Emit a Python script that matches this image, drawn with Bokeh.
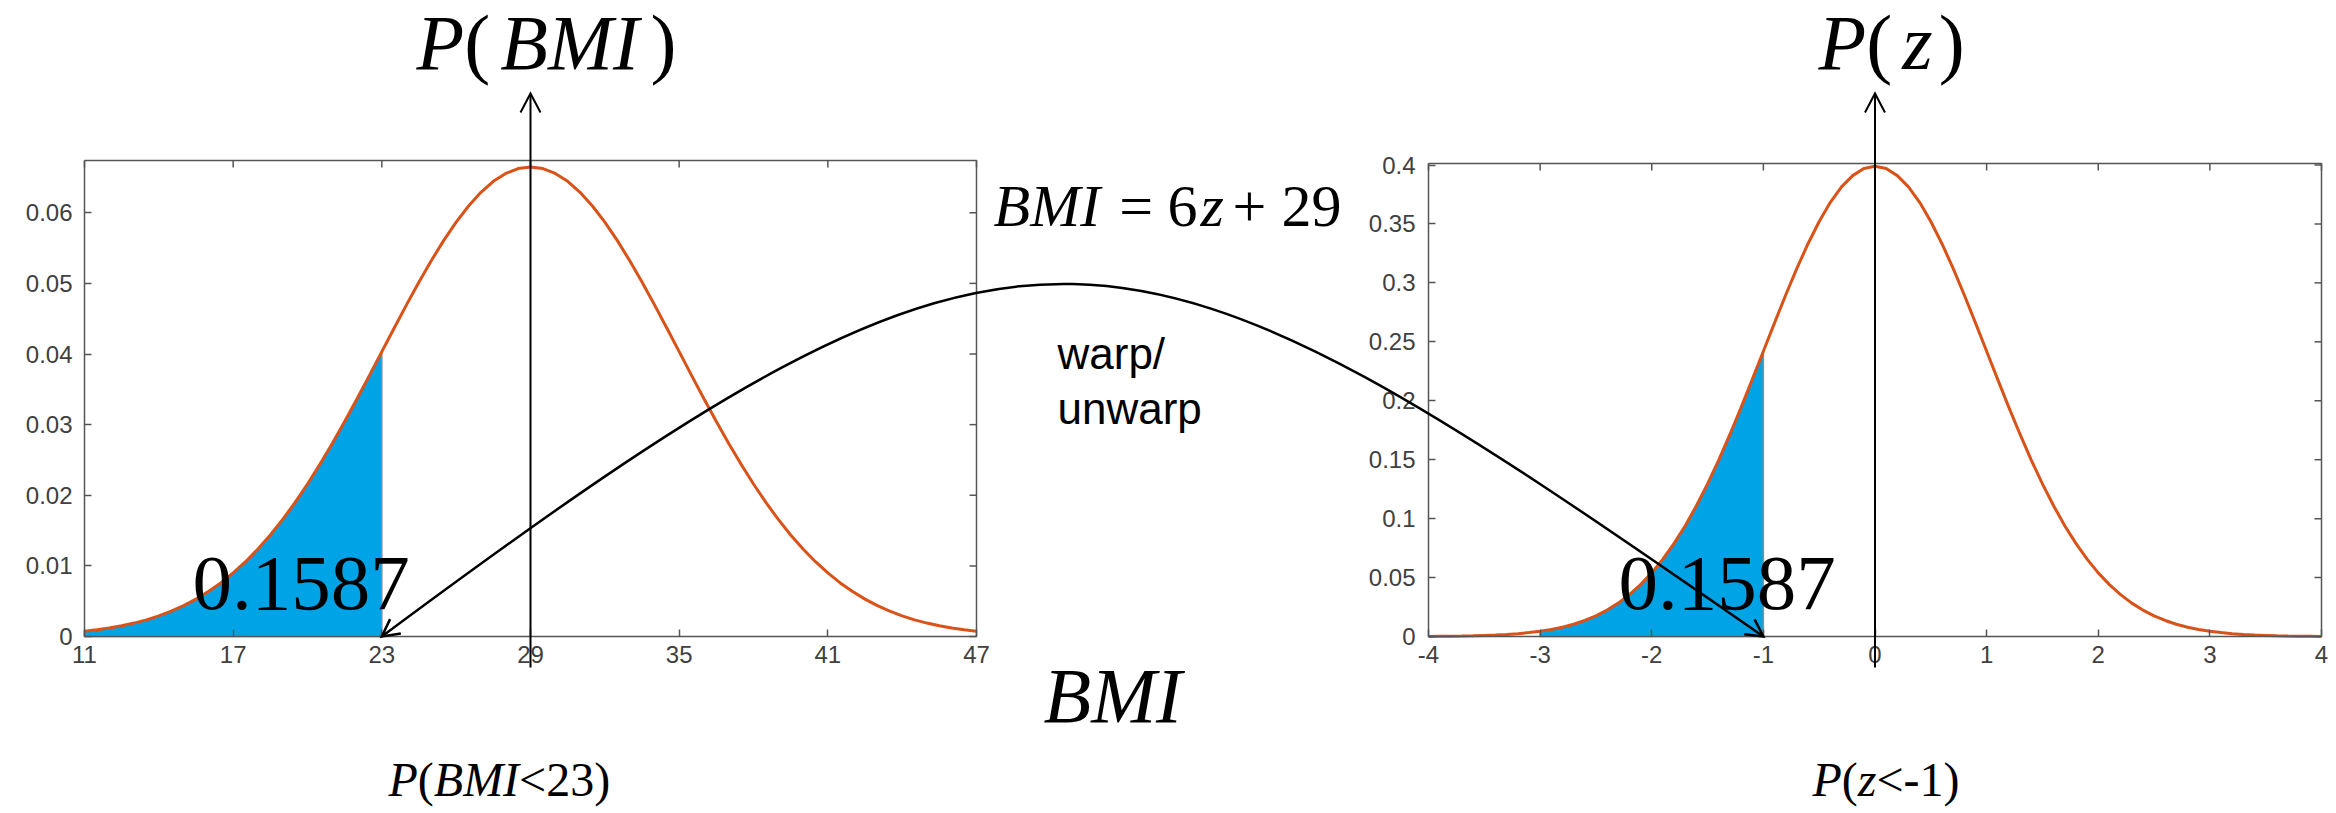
from bokeh.plotting import figure
from bokeh.models import (Range1d, LinearAxis, FixedTicker, ColumnDataSource,
                          CustomJSTickFormatter)
from bokeh.embed import file_html
from bokeh.resources import INLINE
from bokeh.core.properties import value

# ---------------- data ----------------
bmi_ticks = [11, 17, 23, 29, 35, 41, 47]
bmi_tick_labels = ["11", "17", "23", "29", "35", "41", "47"]
bmi_density_ticks = [0, 0.01, 0.02, 0.03, 0.04, 0.05, 0.06]
bmi_density_labels = ["0", "0.01", "0.02", "0.03", "0.04", "0.05", "0.06"]

z_ticks = [-4, -3, -2, -1, 0, 1, 2, 3, 4]
z_tick_labels = ["-4", "-3", "-2", "-1", "0", "1", "2", "3", "4"]
z_density_ticks = [0, 0.05, 0.1, 0.15, 0.2, 0.25, 0.3, 0.35, 0.4]
z_density_labels = ["0", "0.05", "0.1", "0.15", "0.2", "0.25", "0.3", "0.35", "0.4"]

# BMI sampled every 0.5 from 11 to 47
bmi_x = [11 + 0.5 * i for i in range(73)]
bmi_density = [0.00074, 0.00095, 0.00120, 0.00152, 0.00190, 0.00236, 0.00292, 0.00359,
               0.00437, 0.00529, 0.00636, 0.00759, 0.00900, 0.01059, 0.01239, 0.01438,
               0.01658, 0.01898, 0.02159, 0.02438, 0.02733, 0.03044, 0.03367, 0.03697,
               0.04033, 0.04368, 0.04699, 0.05019, 0.05324, 0.05609, 0.05868, 0.06096,
               0.06290, 0.06445, 0.06557, 0.06626, 0.06649, 0.06626, 0.06557, 0.06445,
               0.06290, 0.06096, 0.05868, 0.05609, 0.05324, 0.05019, 0.04699, 0.04368,
               0.04033, 0.03697, 0.03367, 0.03044, 0.02733, 0.02438, 0.02159, 0.01898,
               0.01658, 0.01438, 0.01239, 0.01059, 0.00900, 0.00759, 0.00636, 0.00529,
               0.00437, 0.00359, 0.00292, 0.00236, 0.00190, 0.00152, 0.00120, 0.00095,
               0.00074]

# z sampled every 0.1 from -4 to 4
z_x = [round(-4 + 0.1 * i, 1) for i in range(81)]
z_density = [0.0001, 0.0002, 0.0003, 0.0004, 0.0006, 0.0009, 0.0012, 0.0017, 0.0024, 0.0033,
             0.0044, 0.0060, 0.0079, 0.0104, 0.0136, 0.0175, 0.0224, 0.0283, 0.0355, 0.0440,
             0.0540, 0.0656, 0.0790, 0.0940, 0.1109, 0.1295, 0.1497, 0.1714, 0.1942, 0.2179,
             0.2420, 0.2661, 0.2897, 0.3123, 0.3332, 0.3521, 0.3683, 0.3814, 0.3910, 0.3970,
             0.3989, 0.3970, 0.3910, 0.3814, 0.3683, 0.3521, 0.3332, 0.3123, 0.2897, 0.2661,
             0.2420, 0.2179, 0.1942, 0.1714, 0.1497, 0.1295, 0.1109, 0.0940, 0.0790, 0.0656,
             0.0540, 0.0440, 0.0355, 0.0283, 0.0224, 0.0175, 0.0136, 0.0104, 0.0079, 0.0060,
             0.0044, 0.0033, 0.0024, 0.0017, 0.0012, 0.0009, 0.0006, 0.0004, 0.0003, 0.0002,
             0.0001]
assert len(bmi_x) == len(bmi_density) and len(z_x) == len(z_density)

bmi_range = (11, 47)
bmi_ylim = 0.0674
z_range = (-4, 4)
z_box_top = 0.4013
bmi_mean, z_mean = 29, 0
bmi_cut, z_cut = 23, -1
bmi_fill_start, z_fill_start = 11, -3
tail_prob = "0.1587"

# ---------------- layout (page pixels; the page has no margin) ----------------
W, H = 2336, 812
MB_TOP, MB_BOTTOM = 40, 60               # frame covers almost the whole canvas
L_X0, L_X1, L_Y0, Y_ZERO = 84, 976, 160, 636   # BMI box: 11..47, 0..bmi_ylim
R_X0, R_X1 = 1428, 2321                  # z box: -4..4
R_Y04 = 164.5                            # z density 0.4
TICK_IN = 7
MID_SHIFT = 0.34                         # em offset from text middle to alphabetic baseline

ORANGE = "#D95319"
BLUE = "#00A3E6"
EDGE = "#8c8c8c"
AXIS_COLOR = "#555555"
LABEL_COLOR = "#404040"
SERIF = "Liberation Serif"
SANS = "Liberation Sans"

bmi_per_px = (bmi_range[1] - bmi_range[0]) / (L_X1 - L_X0)
z_per_px = (z_range[1] - z_range[0]) / (R_X1 - R_X0)


def lx(px):
    return bmi_range[0] + (px - L_X0) * bmi_per_px


def ly(py):
    return (Y_ZERO - py) / (Y_ZERO - L_Y0) * bmi_ylim


def rx(px):
    return z_range[0] + (px - R_X0) * z_per_px


def ry(py):
    return (Y_ZERO - py) / (Y_ZERO - R_Y04) * 0.4


def l_px(x):
    return L_X0 + (x - bmi_range[0]) / bmi_per_px


def r_px(x):
    return R_X0 + (x - z_range[0]) / z_per_px


def l_py(y):
    return Y_ZERO - y / bmi_ylim * (Y_ZERO - L_Y0)


def r_py(y):
    return Y_ZERO - y / 0.4 * (Y_ZERO - R_Y04)


F_TOP, F_BOTTOM = MB_TOP, H - MB_BOTTOM

# Times-compatible advance widths (1/1000 em)
REG_W = {" ": 250, "(": 333, ")": 333, "+": 564, "=": 564, "<": 564, "-": 333, ".": 250}
REG_W.update({d: 500 for d in "0123456789"})
ITA_W = {"P": 611, "B": 611, "M": 833, "I": 333, "z": 389}

p = figure(width=W, height=H, x_range=Range1d(lx(0), lx(W)),
           y_range=Range1d(ly(F_BOTTOM), ly(F_TOP)),
           output_backend="svg", toolbar_location=None,
           min_border_left=0, min_border_right=0,
           min_border_top=MB_TOP, min_border_bottom=MB_BOTTOM)
p.extra_x_ranges = {"z": Range1d(rx(0), rx(W))}
p.extra_y_ranges = {"zy": Range1d(ry(F_BOTTOM), ry(F_TOP))}
p.xgrid.visible = False
p.ygrid.visible = False
p.outline_line_color = None
p.background_fill_color = "white"
p.border_fill_color = "white"


def formatter(ticks, labels):
    return CustomJSTickFormatter(args=dict(tick_values=ticks, tick_labels=labels), code="""
        for (let i = 0; i < tick_values.length; i++) {
            if (Math.abs(tick_values[i] - tick) < 1e-9) { return tick_labels[i]; }
        }
        return "";
    """)


def style_axis(ax, ticks, labels, standoff):
    ax.ticker = FixedTicker(ticks=ticks, minor_ticks=[])
    ax.formatter = formatter(ticks, labels)
    ax.major_tick_in = TICK_IN
    ax.major_tick_out = 0
    ax.minor_tick_line_color = None
    ax.major_tick_line_color = AXIS_COLOR
    ax.major_tick_line_width = 1.5
    ax.axis_line_color = AXIS_COLOR
    ax.axis_line_width = 1.5
    ax.major_label_text_font = SANS
    ax.major_label_text_color = LABEL_COLOR
    ax.major_label_text_font_size = "24px"
    ax.major_label_standoff = standoff


# left plot axes, pinned to the box edges
bx = p.below[0]
bx.fixed_location = 0
bx.bounds = bmi_range
style_axis(bx, bmi_ticks, bmi_tick_labels, 9)
by = p.left[0]
by.fixed_location = bmi_range[0]
by.bounds = (0, bmi_ylim)
style_axis(by, bmi_density_ticks, bmi_density_labels, 12)

# right plot axes, pinned to its box edges
zx_axis = LinearAxis(x_range_name="z", fixed_location=0, bounds=z_range)
style_axis(zx_axis, z_ticks, z_tick_labels, 9)
p.add_layout(zx_axis, "below")
zy_axis = LinearAxis(x_range_name="z", y_range_name="zy", fixed_location=z_range[0],
                     bounds=(0, z_box_top))
style_axis(zy_axis, z_density_ticks, z_density_labels, 13)
p.add_layout(zy_axis, "left")

# box edges (top and right) with inward ticks
p.line([bmi_range[0], bmi_range[1], bmi_range[1]], [bmi_ylim, bmi_ylim, 0],
       line_color=AXIS_COLOR, line_width=1.5)
p.line([z_range[0], z_range[1], z_range[1]], [z_box_top, z_box_top, 0],
       line_color=AXIS_COLOR, line_width=1.5, x_range_name="z", y_range_name="zy")
p.segment(x0=bmi_ticks, y0=[bmi_ylim] * len(bmi_ticks), x1=bmi_ticks,
          y1=[ly(L_Y0 + TICK_IN)] * len(bmi_ticks), line_color=AXIS_COLOR, line_width=1.5)
p.segment(x0=[bmi_range[1]] * len(bmi_density_ticks), y0=bmi_density_ticks,
          x1=[lx(L_X1 - TICK_IN)] * len(bmi_density_ticks), y1=bmi_density_ticks,
          line_color=AXIS_COLOR, line_width=1.5)
p.segment(x0=z_ticks, y0=[z_box_top] * len(z_ticks), x1=z_ticks,
          y1=[ry(r_py(z_box_top) + TICK_IN)] * len(z_ticks), line_color=AXIS_COLOR,
          line_width=1.5, x_range_name="z", y_range_name="zy")
p.segment(x0=[z_range[1]] * len(z_density_ticks), y0=z_density_ticks,
          x1=[rx(R_X1 - TICK_IN)] * len(z_density_ticks), y1=z_density_ticks,
          line_color=AXIS_COLOR, line_width=1.5, x_range_name="z", y_range_name="zy")

# ---------------- densities and shaded tails ----------------
lf = [(x, y) for x, y in zip(bmi_x, bmi_density) if bmi_fill_start - 1e-9 <= x <= bmi_cut + 1e-9]
p.patch([bmi_fill_start] + [a for a, _ in lf] + [bmi_cut], [0] + [b for _, b in lf] + [0],
        fill_color=BLUE, line_color=EDGE, line_width=1.5)
p.line(bmi_x, bmi_density, line_color=ORANGE, line_width=3)

rf = [(x, y) for x, y in zip(z_x, z_density) if z_fill_start - 1e-9 <= x <= z_cut + 1e-9]
p.patch([z_fill_start] + [a for a, _ in rf] + [z_cut], [0] + [b for _, b in rf] + [0],
        fill_color=BLUE, line_color=EDGE, line_width=1.5, x_range_name="z", y_range_name="zy")
p.line(z_x, z_density, line_color=ORANGE, line_width=3, x_range_name="z", y_range_name="zy")


# ---------------- arrows ----------------
def unit(dx, dy):
    n = (dx * dx + dy * dy) ** 0.5
    return dx / n, dy / n


def open_head(tip, u, length, half_w, lw):
    nx, ny = -u[1], u[0]
    a = (tip[0] - length * u[0] + half_w * nx, tip[1] - length * u[1] + half_w * ny)
    b = (tip[0] - length * u[0] - half_w * nx, tip[1] - length * u[1] - half_w * ny)
    p.line([lx(a[0]), lx(tip[0]), lx(b[0])], [ly(a[1]), ly(tip[1]), ly(b[1])],
           line_color="black", line_width=lw, line_join="miter", level="overlay")


ARROW_TOP, ARROW_BOTTOM = 93, 667
p.line([bmi_mean, bmi_mean], [ly(ARROW_BOTTOM), ly(ARROW_TOP + 1)], line_color="black",
       line_width=2, level="overlay")
open_head((l_px(bmi_mean), ARROW_TOP), (0.0, -1.0), 19, 10, 2)
p.line([z_mean, z_mean], [ry(ARROW_BOTTOM), ry(ARROW_TOP + 1)], line_color="black",
       line_width=2, level="overlay", x_range_name="z", y_range_name="zy")
open_head((r_px(z_mean), ARROW_TOP), (0.0, -1.0), 19, 10, 2)

# warp / unwarp connector: cubic Bezier from BMI=23 to z=-1, arrowed at both ends
C1 = (1035, 150)
C2 = (1110, 182)
start_px = (l_px(bmi_cut), l_py(0))
end_px = (r_px(z_cut), r_py(0))
p.bezier(x0=[bmi_cut], y0=[0], x1=[lx(end_px[0])], y1=[ly(end_px[1])],
         cx0=[lx(C1[0])], cy0=[ly(C1[1])], cx1=[lx(C2[0])], cy1=[ly(C2[1])],
         line_color="black", line_width=2.5, level="overlay")
open_head(start_px, unit(start_px[0] - C1[0], start_px[1] - C1[1]), 17, 9, 2.5)
open_head(end_px, unit(end_px[0] - C2[0], end_px[1] - C2[1]), 17, 9, 2.5)


# ---------------- texts ----------------
def add_runs(px, baseline_py, runs, size, font=SERIF):
    xs, texts, styles = [], [], []
    cur = 0.0
    for text, style, gap in runs:
        cur += gap * size
        xs.append(cur)
        texts.append(text)
        styles.append(style)
        table = ITA_W if style == "italic" else REG_W
        cur += sum(table.get(c, 500) for c in text) / 1000.0 * size
    y = ly(baseline_py - MID_SHIFT * size)
    src = ColumnDataSource(dict(x=[lx(px)] * len(texts), y=[y] * len(texts), text=texts,
                                style=styles, xoff=xs))
    p.text(x="x", y="y", text="text", x_offset="xoff", source=src,
           text_font=value(font), text_font_style="style",
           text_font_size=value(f"{size}px"), text_color="black",
           text_align="left", text_baseline="middle", level="annotation")


add_runs(416, 69, [("P", "italic", 0), ("(", "normal", 0),
                   ("BMI", "italic", 0.13), (")", "normal", 0.15)], 78)
add_runs(1818, 69, [("P", "italic", 0), ("(", "normal", 0),
                    ("z", "italic", 0.13), (")", "normal", 0.08)], 78)
add_runs(993, 226, [("BMI", "italic", 0), ("=", "normal", 0.32),
                    ("6", "normal", 0.24), ("z", "italic", 0.05),
                    ("+", "normal", 0.145), ("29", "normal", 0.25)], 60)
add_runs(1057, 368, [("warp/", "normal", 0)], 44, font=SANS)
add_runs(1057, 423, [("unwarp", "normal", 0)], 44, font=SANS)
add_runs(192, 610, [(tail_prob, "normal", 0)], 79)
add_runs(1618, 610, [(tail_prob, "normal", 0)], 79)
add_runs(1043, 722, [("BMI", "italic", 0)], 78)
add_runs(388, 795, [("P", "italic", 0), ("(", "normal", 0), ("BMI", "italic", 0),
                    ("<" + str(bmi_cut) + ")", "normal", 0)], 48)
add_runs(1812, 795, [("P", "italic", 0), ("(", "normal", 0), ("z", "italic", 0),
                     ("<" + str(z_cut) + ")", "normal", 0)], 48)

open("out.html", "w").write(file_html(p, INLINE))
